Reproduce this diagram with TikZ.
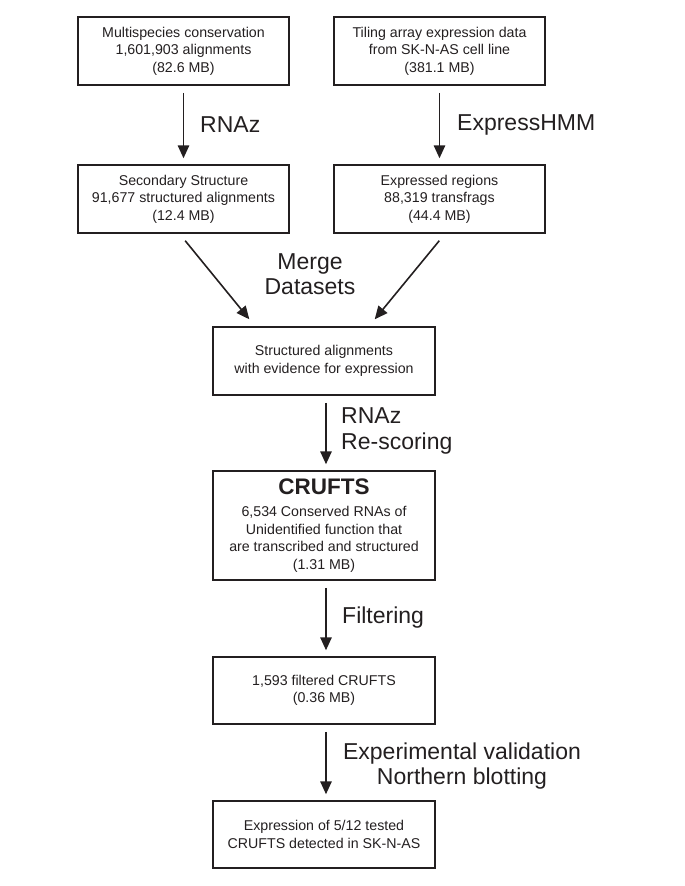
\documentclass[tikz,border=0pt]{standalone}
\usepackage{fontspec}
\setmainfont{Liberation Sans}
\usetikzlibrary{arrows.meta}
\definecolor{ink}{HTML}{231F20}
\begin{document}
\begin{tikzpicture}[x=1pt,y=-1pt,
  box/.style={draw=ink, line width=1.5pt, minimum width=211pt, minimum height=68pt, inner sep=0pt, align=center, text=ink, font=\fontsize{14.2}{17.5}\selectfont},
  wbox/.style={box, minimum width=222pt},
  lbl/.style={text=ink, font=\fontsize{23}{25.5}\selectfont, inner sep=0pt},
  arr/.style={draw=ink, line width=1.6pt, -{Triangle[length=13pt,width=11.5pt]}, shorten <=7pt, shorten >=6pt}]
\useasboundingbox (0,0) rectangle (685,886);
\node[box] (b1) at (183.5,51) {Multispecies conservation\\1,601,903 alignments\\(82.6 MB)};
\node[box] (b2) at (439.5,51) {Tiling array expression data\\from SK-N-AS cell line\\(381.1 MB)};
\node[box] (b3) at (183.5,199) {Secondary Structure\\91,677 structured alignments\\(12.4 MB)};
\node[box] (b4) at (439.5,199) {Expressed regions\\88,319 transfrags\\(44.4 MB)};
\node[wbox] (b5) at (324,361) {Structured alignments\\with evidence for expression};
\node[wbox, minimum height=109pt] (b6) at (324,525.5) {{\fontsize{22.5}{26}\selectfont\bfseries CRUFTS}\\[5pt]6,534 Conserved RNAs of\\Unidentified function that\\are transcribed and structured\\(1.31 MB)};
\node[wbox, minimum height=67pt] (b7) at (324,690.5) {1,593 filtered CRUFTS\\(0.36 MB)};
\node[wbox, minimum height=67pt] (b8) at (324,834.5) {Expression of 5/12 tested\\CRUFTS detected in SK-N-AS};
\draw[arr] (b1) -- (b3);
\draw[arr] (b2) -- (b4);
\draw[arr, shorten <=9pt, shorten >=9pt] ([xshift=-4pt]b3.south) -- ([xshift=-69pt]b5.north);
\draw[arr, shorten <=9pt, shorten >=9pt] ([xshift=5.5pt]b4.south) -- ([xshift=45pt]b5.north);
\draw[arr] ([xshift=2pt]b5.south) -- ([xshift=2pt]b6.north);
\draw[arr] ([xshift=2pt]b6.south) -- ([xshift=2pt]b7.north);
\draw[arr] ([xshift=2pt]b7.south) -- ([xshift=2pt]b8.north);
\node[lbl, anchor=west] (l1) at (200,125) {RNAz};
\node[lbl, anchor=west] (l2) at (457,125) {ExpressHMM};
\node[lbl, align=center] (l3) at (310,274) {Merge\\Datasets};
\node[lbl, align=left, anchor=west] (l4) at (341,431) {RNAz\\Re-scoring};
\node[lbl, anchor=west] (l5) at (342,618) {Filtering};
\node[lbl, align=center] (l6) at (462,766) {Experimental validation\\Northern blotting};
\end{tikzpicture}
\end{document}
